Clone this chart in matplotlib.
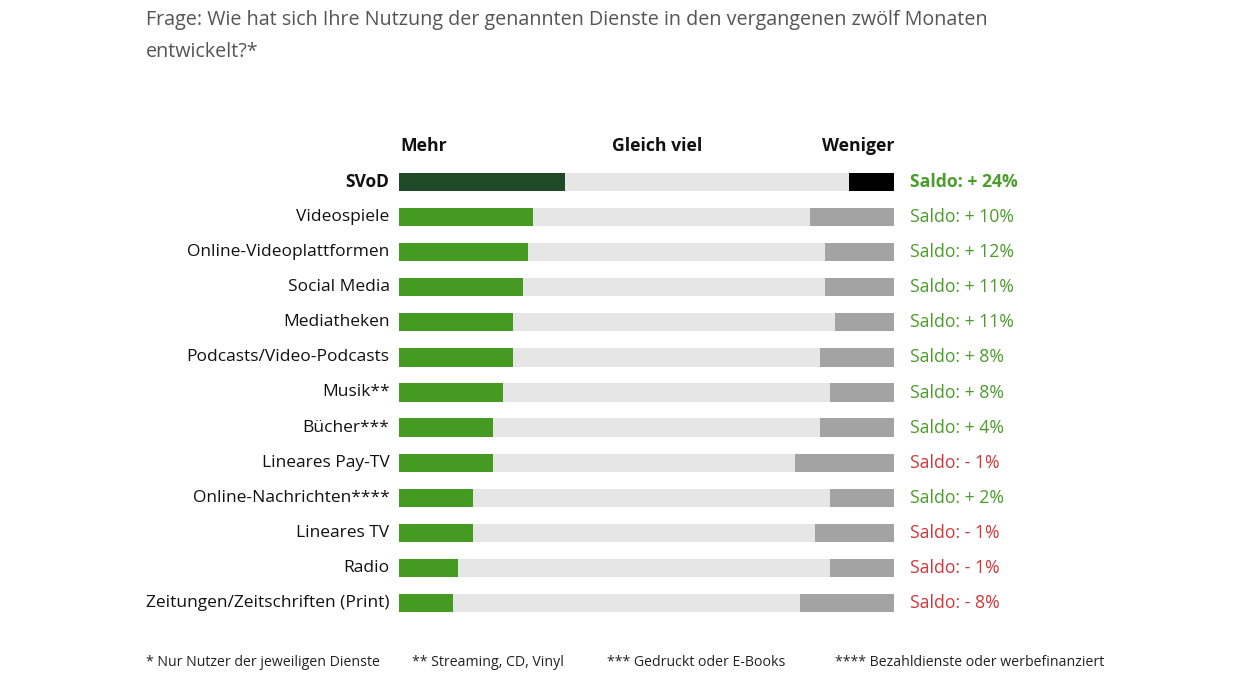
import matplotlib
matplotlib.use("Agg")
import matplotlib.pyplot as plt

plt.rcParams['font.family'] = ['Open Sans', 'DejaVu Sans']

categories = ["SVoD", "Videospiele", "Online-Videoplattformen", "Social Media", "Mediatheken",
              "Podcasts/Video-Podcasts", "Musik**", "Bücher***", "Lineares Pay-TV",
              "Online-Nachrichten****", "Lineares TV", "Radio", "Zeitungen/Zeitschriften (Print)"]
mehr = [33.5, 27, 26, 25, 23, 23, 21, 19, 19, 15, 15, 12, 11]
weniger = [9, 17, 14, 14, 12, 15, 13, 15, 20, 13, 16, 13, 19]
saldo_labels = ["Saldo: + 24%", "Saldo: + 10%", "Saldo: + 12%", "Saldo: + 11%", "Saldo: + 11%",
                "Saldo: + 8%", "Saldo: + 8%", "Saldo: + 4%", "Saldo: - 1%", "Saldo: + 2%",
                "Saldo: - 1%", "Saldo: - 1%", "Saldo: - 8%"]
saldo_positive = [True, True, True, True, True, True, True, True, False, True, False, False, False]
headers = ["Mehr", "Gleich viel", "Weniger"]
title = "Frage: Wie hat sich Ihre Nutzung der genannten Dienste in den vergangenen zwölf Monaten\nentwickelt?*"
footnotes = ["* Nur Nutzer der jeweiligen Dienste", "** Streaming, CD, Vinyl",
             "*** Gedruckt oder E-Books", "**** Bezahldienste oder werbefinanziert"]

W, H = 1260, 680
fig = plt.figure(figsize=(W / 100, H / 100), dpi=100)
fig.patch.set_facecolor("white")

ax = fig.add_axes([399 / W, 1 - 620.5 / H, 495 / W, 456 / H])
ax.set_xlim(0, 100)
ax.set_ylim(len(categories) - 0.5, -0.5)
ax.axis("off")

green = "#459a22"
dark_green = "#1f4a28"
light = "#e6e6e6"
gray = "#a3a3a3"
red = "#d2373a"
sgreen = "#4a9d2a"

for i, cat in enumerate(categories):
    svod = (i == 0)
    m = mehr[i]
    w = weniger[i]
    ax.barh(i, 100, left=0, height=0.52, color=light, linewidth=0)
    ax.barh(i, m, left=0, height=0.52, color=dark_green if svod else green, linewidth=0)
    ax.barh(i, w, left=100 - w, height=0.52, color="black" if svod else gray, linewidth=0)
    ax.text(-1.9, i, cat, ha="right", va="center", fontsize=12.5,
            color="#111111", fontweight="bold" if svod else "normal")
    ax.text(103.2, i, saldo_labels[i], ha="left", va="center", fontsize=12.7,
            color=sgreen if saldo_positive[i] else red, fontweight="bold" if svod else "normal")

hy = 1 - 146 / H
fig.text(400 / W, hy, headers[0], ha="left", va="center", fontsize=12.7, fontweight="bold", color="#111111")
fig.text(657 / W, hy, headers[1], ha="center", va="center", fontsize=12.7, fontweight="bold", color="#111111")
fig.text(894 / W, hy, headers[2], ha="right", va="center", fontsize=12.7, fontweight="bold", color="#111111")

fig.text(146 / W, 1 - 20 / H, title.split("\n")[0], ha="left", va="center", fontsize=14.2, color="#555555")
fig.text(146 / W, 1 - 52 / H, title.split("\n")[1], ha="left", va="center", fontsize=14.2, color="#555555")

fx = [146, 412, 607, 835]
for x, t in zip(fx, footnotes):
    fig.text(x / W, 1 - 662 / H, t, ha="left", va="center", fontsize=10.2, color="#222222")

fig.savefig("out.png", dpi=100, facecolor="white")
